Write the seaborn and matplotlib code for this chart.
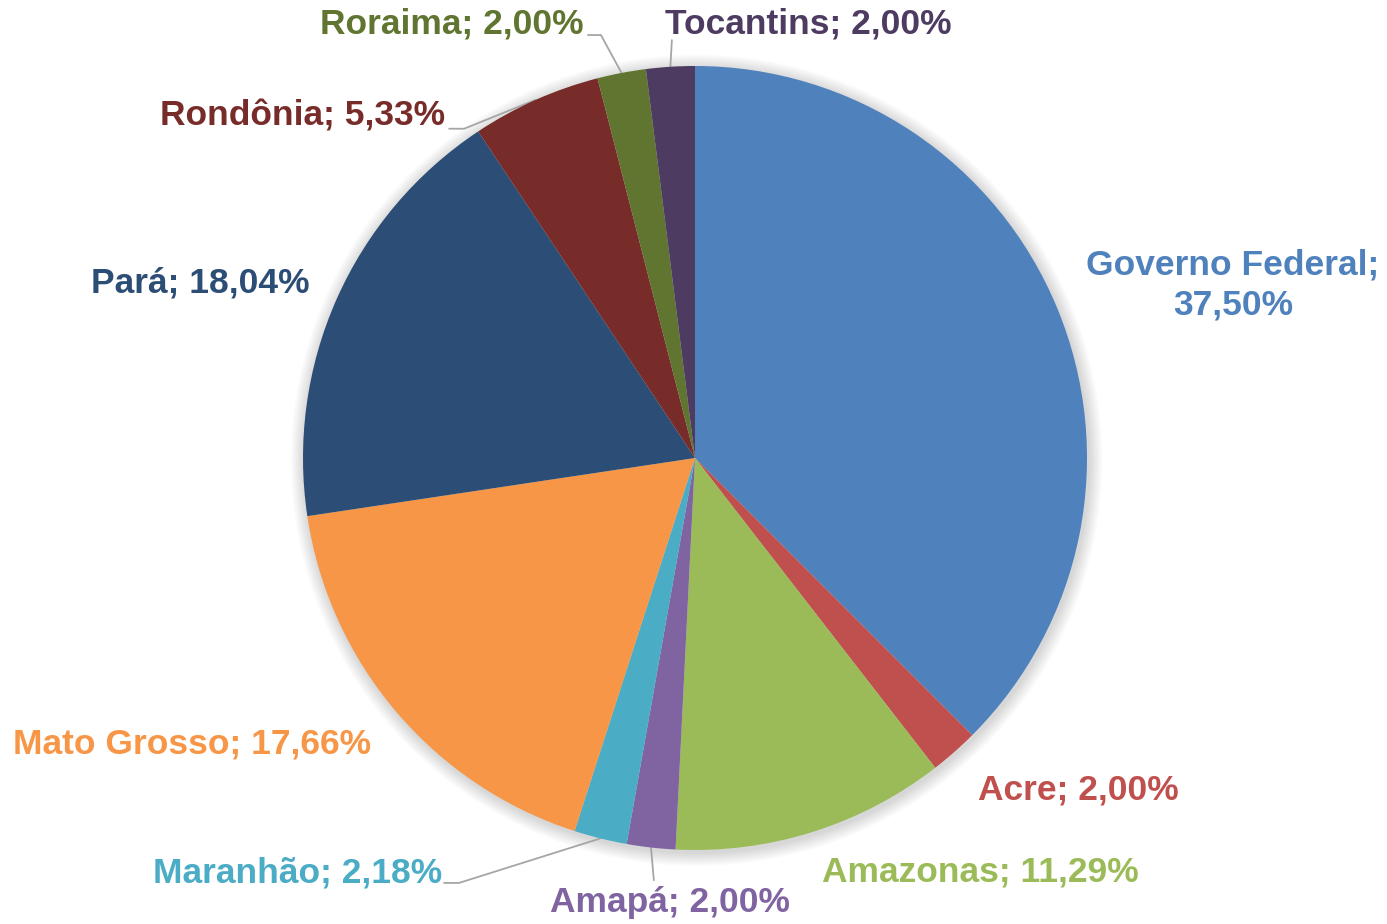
import numpy as np
import matplotlib
matplotlib.use("Agg")
import matplotlib.pyplot as plt
import seaborn as sns
from matplotlib.patches import Circle

# data
states = ["Governo Federal", "Acre", "Amazonas", "Amapá", "Maranhão",
          "Mato Grosso", "Pará", "Rondônia", "Roraima", "Tocantins"]
shares = [37.50, 2.00, 11.29, 2.00, 2.18, 17.66, 18.04, 5.33, 2.00, 2.00]
colors = ["#4F81BD", "#C0504D", "#9BBB59", "#8064A2", "#4BACC6",
          "#F79646", "#2C4D75", "#772C2A", "#5F7530", "#4D3B62"]

# label layout (data units, pie radius = 1)
label_xy = [(1.372, 0.441), (0.977, -0.847), (0.727, -1.056), (-0.064, -1.133),
            (-1.015, -1.059), (-1.283, -0.730), (-1.263, 0.446), (-1.0, 0.872),
            (-0.620, 1.107), (0.288, 1.107)]
# leader lines: (elbow point, text end point) or None
leaders = [None, None, None,
           ((-0.105, -1.077), (-0.105, -1.077)),
           ((-0.602, -1.084), (-0.640, -1.084)),
           None, None,
           ((-0.589, 0.840), (-0.627, 0.840)),
           ((-0.240, 1.079), (-0.273, 1.079)),
           ((-0.059, 1.066), (-0.059, 1.066))]

sns.set_theme(style="white")
plt.rcParams["font.family"] = ["Liberation Sans", "DejaVu Sans"]

fig = plt.figure(figsize=(13.87, 9.24), dpi=100)
ax = fig.add_axes([0, 0, 1, 1])
ax.axis("off")

# soft shadow
for k in range(10):
    ax.add_patch(Circle((0.004, -0.006), 1.0 + 0.0035 * (k + 1),
                        color="black", alpha=0.015, lw=0, zorder=0))

pal = sns.color_palette(colors)
wedges, _ = ax.pie(shares, colors=pal, startangle=90, counterclock=False,
                   radius=1.0, wedgeprops=dict(linewidth=0))
for w in wedges:
    w.set_zorder(2)

# pie() resets limits, so set them afterwards
ax.set_aspect("auto")
ax.set_xlim(-695 / 392, (1387 - 695) / 392)
ax.set_ylim(-(924 - 458) / 392, 458 / 392)

total = sum(shares)
cum = np.cumsum([0] + shares[:-1])
for i, (name, val) in enumerate(zip(states, shares)):
    mid = np.deg2rad(90 - (cum[i] + val / 2) / total * 360)
    txt = f"{name};\n{val:.2f}%".replace(".", ",") if i == 0 else \
        f"{name}; {val:.2f}%".replace(".", ",")
    x, y = label_xy[i]
    ax.text(x, y, txt, ha="center", va="center", color=colors[i],
            fontsize=25.5, fontweight="bold", linespacing=1.25, zorder=5)
    if leaders[i] is not None:
        (ex, ey), (tx, ty) = leaders[i]
        px, py = np.cos(mid), np.sin(mid)
        ax.plot([px, ex, tx], [py, ey, ty], color="#A6A6A6", lw=1.3, zorder=1)

fig.savefig("out.png", dpi=100)
